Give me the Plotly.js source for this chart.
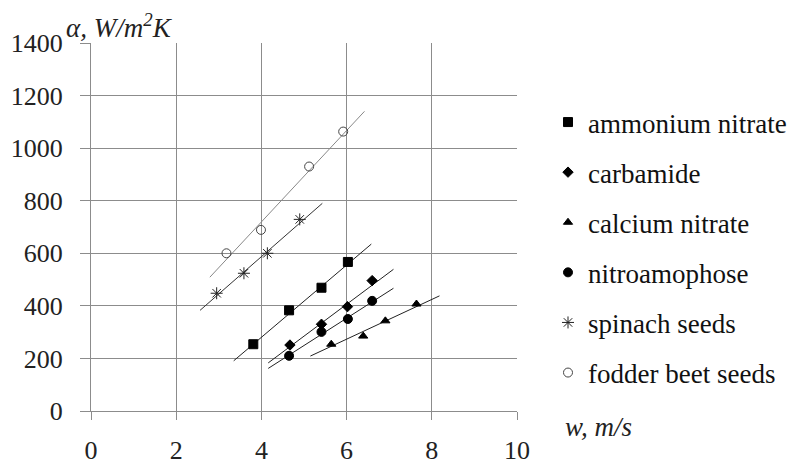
<!DOCTYPE html>
<html>
<head>
<meta charset="utf-8">
<script src="https://cdn.plot.ly/plotly-3.0.1.min.js"></script>
<style>
html,body{margin:0;padding:0;background:#fff;}
#chart{width:790px;height:461px;}
.modebar-container{display:none !important;}
</style>
</head>
<body>
<div id="chart"></div>
<script>
// Series names
const seriesNames = ["ammonium nitrate", "carbamide", "calcium nitrate", "nitroamophose", "spinach seeds", "fodder beet seeds"];

// Measured points (w, m/s ; α, W/m²K)
const ammoniumX = [3.81, 4.65, 5.41, 6.03];
const ammoniumY = [254, 383, 469, 567];
const carbamideX = [4.67, 5.41, 6.02, 6.60];
const carbamideY = [251, 330, 397, 496];
const calciumX = [5.64, 6.39, 6.91, 7.64];
const calciumY = [254, 285, 343, 407];
const nitroX = [4.65, 5.41, 6.03, 6.60];
const nitroY = [210, 301, 350, 419];
const spinachX = [2.95, 3.59, 4.14, 4.90];
const spinachY = [448, 524, 600, 729];
const fodderX = [3.18, 3.99, 5.12, 5.92];
const fodderY = [600, 689, 930, 1063];

// Trend line end points
const ammoniumTrendX = [3.35, 6.58];
const ammoniumTrendY = [191, 635];
const carbamideTrendX = [4.16, 7.10];
const carbamideTrendY = [183, 539];
const calciumTrendX = [5.15, 8.18];
const calciumTrendY = [209, 438];
const nitroTrendX = [4.16, 7.10];
const nitroTrendY = [162, 467];
const spinachTrendX = [2.56, 5.43];
const spinachTrendY = [383, 790];
const fodderTrendX = [2.79, 6.42];
const fodderTrendY = [509, 1140];

// Axis ticks
const xTicks = [0, 2, 4, 6, 8, 10];
const yTicks = [0, 200, 400, 600, 800, 1000, 1200, 1400];

(function () {
  const fam = "Tinos, serif";

  const pts = [
    [ammoniumX, ammoniumY, "square", 9, "#000"],
    [carbamideX, carbamideY, "diamond", 8, "#000"],
    [calciumX, calciumY, "triangle-up", 8, "#000"],
    [nitroX, nitroY, "circle", 9, "#000"],
    [spinachX, spinachY, "asterisk-open", 10, "#222"],
    [fodderX, fodderY, "circle-open", 9, "#444"]
  ];
  const trends = [
    [ammoniumTrendX, ammoniumTrendY, "#222"],
    [carbamideTrendX, carbamideTrendY, "#222"],
    [calciumTrendX, calciumTrendY, "#222"],
    [nitroTrendX, nitroTrendY, "#222"],
    [spinachTrendX, spinachTrendY, "#333"],
    [fodderTrendX, fodderTrendY, "#888"]
  ];

  const traces = [];
  trends.forEach(function (t, i) {
    traces.push({
      x: t[0], y: t[1], type: "scatter", mode: "lines",
      line: {color: t[2], width: 1}, showlegend: false,
      legendgroup: "g" + i, hoverinfo: "skip"
    });
  });
  pts.forEach(function (p, i) {
    traces.push({
      x: p[0], y: p[1], type: "scatter", mode: "markers", name: seriesNames[i],
      legendgroup: "g" + i,
      marker: {symbol: p[2], size: p[3], color: p[4], line: {color: p[4], width: 1}}
    });
  });

  const pl = 91, pr = 517, pt = 43, pb = 411;
  const pw = pr - pl, ph = pb - pt;
  const fx = function (px) { return (px - pl) / pw; };
  const fy = function (py) { return (pb - py) / ph; };

  const lay = {
    width: 790, height: 461,
    margin: {l: pl, r: 790 - pr, t: pt, b: 461 - pb, pad: 0, autoexpand: false},
    paper_bgcolor: "#fff", plot_bgcolor: "#fff",
    font: {family: fam, size: 26},
    showlegend: true,
    legend: {
      x: fx(548), y: fy(98), xanchor: "left", yanchor: "top",
      font: {family: fam, size: 27, color: "#111"},
      traceorder: "grouped", tracegroupgap: 12, bgcolor: "rgba(0,0,0,0)"
    },
    xaxis: {
      range: [0, 10], tickvals: xTicks, ticktext: xTicks.map(String),
      showgrid: true, gridcolor: "#8c8c8c", gridwidth: 1,
      showline: true, linecolor: "#8c8c8c", linewidth: 1,
      zeroline: false, ticks: "outside", ticklen: 8, tickcolor: "#8c8c8c",
      ticklabelstandoff: 8,
      tickfont: {family: fam, size: 26, color: "#222"}
    },
    yaxis: {
      range: [0, 1400], tickvals: yTicks, ticktext: yTicks.map(String),
      showgrid: true, gridcolor: "#8c8c8c", gridwidth: 1,
      showline: true, linecolor: "#8c8c8c", linewidth: 1,
      zeroline: false, ticks: "outside", ticklen: 10, tickcolor: "#8c8c8c",
      ticklabelstandoff: 12,
      tickfont: {family: fam, size: 26, color: "#222"}
    },
    annotations: [
      {text: "<i>α, W/m<sup>2</sup>K</i>", xref: "paper", yref: "paper",
       x: fx(64), y: fy(26), xanchor: "left", yanchor: "middle", showarrow: false,
       font: {family: fam, size: 27, color: "#222"}},
      {text: "<i>w, m/s</i>", xref: "paper", yref: "paper",
       x: fx(563), y: fy(427), xanchor: "left", yanchor: "middle", showarrow: false,
       font: {family: fam, size: 27, color: "#222"}}
    ]
  };

  Plotly.newPlot("chart", traces, lay);
})();
</script>
</body>
</html>
